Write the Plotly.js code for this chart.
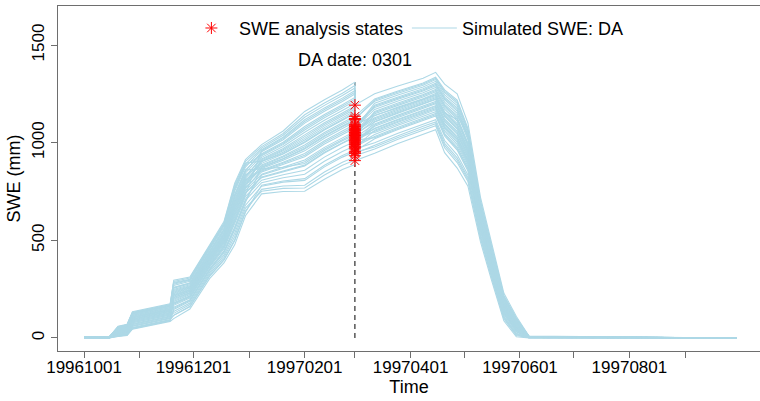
<!DOCTYPE html>
<html>
<head>
<meta charset="utf-8">
<script src="https://cdn.plot.ly/plotly-3.0.1.min.js"></script>
<style>
html,body{margin:0;padding:0;background:#fff;}
#chart{width:760px;height:401px;}
</style>
</head>
<body>
<div id="chart"></div>
<script>
// ---- data ----
const preDates = ['1996-10-01','1996-10-15','1996-10-20','1996-10-25','1996-10-28','1996-11-07','1996-11-18','1996-11-20','1996-11-29','1996-12-10','1996-12-18','1996-12-24','1996-12-30','1997-01-08','1997-01-20','1997-02-01','1997-02-12','1997-02-22','1997-03-01'];
const daDate = '1997-03-01';
const postDates = ['1997-03-12','1997-03-25','1997-04-08','1997-04-15','1997-04-20','1997-04-27','1997-05-03','1997-05-10','1997-05-16','1997-05-23','1997-05-30','1997-06-06','1997-09-30'];

const preSWE = [
 [0,0,8,13,45,65,85,99,148,304,384,477,626,738,750,751,813,863,888],
 [1,1,13,19,54,74,94,116,162,318,402,503,650,761,778,782,850,900,927],
 [2,2,22,28,69,89,109,136,179,336,424,536,680,777,798,807,876,926,953],
 [1,0,11,16,50,70,90,152,193,350,442,562,704,795,820,838,905,955,984],
 [4,2,30,37,83,103,123,167,205,363,457,586,725,808,836,859,926,976,1006],
 [2,1,19,25,64,84,104,177,213,372,468,602,740,824,855,885,951,1001,1032],
 [4,3,35,43,92,112,132,187,222,381,479,619,755,839,874,911,976,1026,1058],
 [3,2,24,31,73,93,113,198,230,390,490,635,770,850,887,928,993,1043,1075],
 [5,3,38,46,97,117,137,193,227,386,486,628,764,860,900,945,1010,1060,1093],
 [3,2,27,34,78,98,118,208,239,399,501,652,785,868,910,958,1023,1073,1106],
 [6,4,44,52,107,127,147,214,244,404,508,661,794,876,919,971,1035,1085,1119],
 [4,2,33,40,88,108,128,202,233,394,494,642,776,886,932,988,1052,1102,1136],
 [5,3,41,49,102,122,142,222,250,412,516,675,806,894,942,1001,1065,1115,1149],
 [2,1,16,22,59,79,99,218,247,408,512,668,800,902,951,1014,1077,1127,1162],
 [6,4,49,58,116,136,156,230,257,419,525,688,818,907,958,1022,1086,1136,1171],
 [5,3,37,45,95,115,135,239,264,426,534,701,830,917,970,1040,1102,1152,1188],
 [6,4,46,55,111,131,151,234,261,422,530,694,824,925,980,1053,1115,1165,1201],
 [7,5,55,64,126,146,166,249,273,435,545,718,845,933,990,1065,1128,1178,1214],
 [5,3,42,51,105,125,145,259,281,444,556,734,860,943,1002,1083,1144,1194,1232],
 [7,4,52,61,121,141,161,255,278,440,552,727,854,954,1015,1100,1161,1211,1249],
 [8,5,57,67,130,150,170,269,290,453,567,751,875,964,1028,1117,1178,1228,1267],
 [6,4,48,57,114,134,154,280,298,462,578,767,890,972,1038,1130,1191,1241,1280],
 [8,5,60,70,135,155,175,290,307,471,589,784,905,980,1047,1143,1203,1253,1293],
 [7,4,53,63,124,144,164,296,312,476,596,793,914,990,1060,1160,1220,1270,1310],
 [3,2,27,34,78,98,118,126,171,327,413,520,665,751,766,768,834,884,910],
 [5,3,39,47,99,119,139,157,196,354,446,569,710,834,868,902,968,1018,1049],
 [7,4,52,61,121,141,161,181,216,376,472,609,746,821,852,881,947,997,1027],
 [2,2,22,28,69,89,109,226,254,415,521,681,812,855,894,936,1002,1052,1084],
 [1,1,12,17,51,71,91,243,267,430,538,708,836,881,926,979,1044,1094,1127],
 [7,5,56,65,127,147,167,208,239,399,501,652,785,912,964,1031,1094,1144,1180],
 [4,2,33,40,88,108,128,275,295,458,574,760,884,938,996,1074,1136,1186,1223],
 [6,4,44,52,107,127,147,173,210,368,464,595,734,959,1022,1108,1170,1220,1258],
 [1,0,9,15,48,68,88,146,188,345,435,553,695,873,916,967,1031,1081,1114],
 [8,5,58,68,131,151,171,284,301,466,582,774,896,905,945,1005,1069,1119,1153],
 [4,2,30,37,83,103,123,259,281,444,556,734,860,866,874,893,960,1010,1040],
 [2,1,17,23,61,81,101,116,160,316,398,498,644,782,804,816,884,934,962]
];

const analysisSWE = [908,945,968,983,956,1002,1014,997,1037,1025,1048,1007,1043,1060,1020,1066,1076,1053,1083,1094,1071,1118,1135,1192,
                     933,979,1037,1053,990,1030,1089,1124,1012,1064,974,951];

const postSWE = [
 [946,996,1045,1066,949,870,777,492,300,88,6,0,0],
 [988,1036,1084,1106,997,922,821,523,326,107,20,2,0],
 [1000,1048,1096,1118,1011,938,835,533,334,113,24,2,0],
 [1042,1089,1135,1159,1060,990,879,564,360,133,39,4,0],
 [1020,1067,1114,1137,1034,962,855,547,346,122,31,3,0],
 [1074,1120,1165,1190,1097,1030,913,588,380,148,50,5,0],
 [1058,1104,1150,1174,1078,1010,896,576,370,140,44,4,0],
 [1090,1135,1180,1205,1115,1050,930,600,390,155,55,5,0],
 [1116,1160,1204,1230,1145,1082,957,619,406,167,64,6,0],
 [1096,1141,1186,1211,1122,1058,937,605,394,158,57,5,0],
 [1138,1182,1225,1252,1171,1110,981,636,420,178,72,7,0],
 [1084,1129,1174,1199,1108,1042,923,595,386,152,53,5,0],
 [1106,1151,1195,1221,1134,1070,947,612,400,163,61,6,0],
 [1154,1197,1240,1267,1189,1130,998,648,430,185,77,7,0],
 [1071,1116,1162,1186,1093,1026,910,586,378,146,48,4,0],
 [1128,1172,1216,1242,1159,1098,971,629,414,173,68,6,0],
 [1170,1213,1255,1283,1208,1150,1015,660,440,193,83,8,0],
 [1148,1191,1234,1261,1182,1122,991,643,426,182,75,7,0],
 [1186,1228,1270,1298,1226,1170,1032,672,450,200,88,8,0],
 [1180,1222,1264,1292,1219,1162,1025,667,446,197,86,8,0],
 [1202,1244,1285,1314,1245,1190,1049,684,460,208,94,9,0],
 [1218,1259,1300,1329,1263,1210,1066,696,470,215,99,9,0],
 [1224,1265,1306,1335,1270,1218,1073,701,474,218,101,9,0],
 [1250,1290,1330,1360,1300,1250,1100,720,490,230,110,10,0],
 [968,1017,1066,1087,974,898,801,509,314,98,13,1,0],
 [1032,1079,1126,1149,1048,978,869,557,354,128,35,3,0],
 [1052,1098,1144,1168,1071,1002,889,571,366,137,42,4,0],
 [1122,1166,1210,1236,1152,1090,964,624,410,170,66,6,0],
 [1109,1154,1198,1224,1137,1074,950,560,360,130,40,3,0],
 [1160,1203,1246,1273,1196,1138,1040,690,452,196,82,7,0],
 [1140,1178,1222,1246,1150,1120,990,628,412,172,70,6,0],
 [1212,1253,1294,1323,1256,1202,1059,691,466,212,97,9,0],
 [1026,1073,1120,1143,1041,970,862,552,350,125,33,3,0],
 [1192,1234,1276,1304,1233,1178,1039,677,454,203,90,8,0],
 [1064,1110,1156,1180,1085,1018,903,581,374,143,46,4,0],
 [978,1027,1075,1097,986,910,811,516,320,103,16,1,0]
];

const tickDates = ['1996-10-01','1996-11-01','1996-12-01','1997-01-01','1997-02-01','1997-03-01','1997-04-01','1997-05-01','1997-06-01','1997-07-01','1997-08-01','1997-09-01'];
const tickLabels = ['19961001','','19961201','','19970201','','19970401','','19970601','','19970801',''];
const yTicks = [0, 500, 1000, 1500];
const legendNames = ['SWE analysis states', 'Simulated SWE: DA'];
const daLabel = 'DA date: 0301';

// ---- build traces ----
const lineColor = '#ADD8E6';
const traces = [];
preSWE.forEach(function(pre, i){
  traces.push({
    type: 'scatter', mode: 'lines',
    x: preDates.concat([daDate]).concat(postDates),
    y: pre.concat([analysisSWE[i]]).concat(postSWE[i]),
    line: {color: lineColor, width: 1.1},
    name: legendNames[1],
    legendgroup: 'sim',
    legendrank: 2,
    showlegend: i === 0,
    hoverinfo: 'skip'
  });
});
traces.push({
  type: 'scatter', mode: 'markers',
  x: analysisSWE.map(function(){ return daDate; }),
  y: analysisSWE,
  marker: {symbol: 'asterisk-open', color: 'red', size: 10, line: {color: 'red', width: 1}},
  name: legendNames[0],
  legendrank: 1,
  hoverinfo: 'skip'
});

const font = {family: '"Liberation Sans", Arial, Helvetica, sans-serif', color: '#000'};
const axisColor = '#6e6e6e';

const layout = {
  width: 760, height: 401,
  margin: {l: 58, r: 0, t: 6, b: 50},
  paper_bgcolor: '#fff', plot_bgcolor: '#fff',
  font: Object.assign({size: 17}, font),
  showlegend: true,
  legend: {
    orientation: 'h', x: 0.497, xanchor: 'center', y: 0.989, yanchor: 'top',
    bgcolor: 'rgba(0,0,0,0)', font: Object.assign({size: 18}, font),
    traceorder: 'normal', itemwidth: 45,
    entrywidth: 163, entrywidthmode: 'pixels'
  },
  xaxis: {
    type: 'date',
    range: ['1996-09-16 12:00', '1997-10-12 19:00'],
    tickvals: tickDates, ticktext: tickLabels,
    ticks: 'outside', ticklen: 6, tickcolor: axisColor, tickwidth: 1,
    ticklabelstandoff: -5,
    showline: true, linecolor: axisColor, linewidth: 1, mirror: true,
    showgrid: false, zeroline: false,
    tickfont: Object.assign({size: 17}, font),
    title: {text: 'Time', font: Object.assign({size: 18}, font), standoff: 1}
  },
  yaxis: {
    range: [-66.6, 1699.7],
    tickvals: yTicks,
    ticks: 'outside', ticklen: 6, tickcolor: axisColor, tickwidth: 1,
    tickangle: -90,
    showline: true, linecolor: axisColor, linewidth: 1,
    showgrid: false, zeroline: false,
    tickfont: Object.assign({size: 17}, font),
    title: {text: 'SWE (mm)', font: Object.assign({size: 18}, font), standoff: 3}
  },
  shapes: [{
    type: 'line', xref: 'x', yref: 'y', layer: 'below',
    x0: daDate, x1: daDate, y0: 0, y1: 1310,
    line: {color: '#000', width: 1, dash: '5px,4px'}
  }],
  annotations: [{
    text: daLabel, xref: 'x', yref: 'paper', x: daDate, y: 0.843,
    xanchor: 'center', yanchor: 'middle', showarrow: false,
    font: Object.assign({size: 18}, font)
  }]
};

Plotly.newPlot('chart', traces, layout, {staticPlot: true, displayModeBar: false});
</script>
</body>
</html>
